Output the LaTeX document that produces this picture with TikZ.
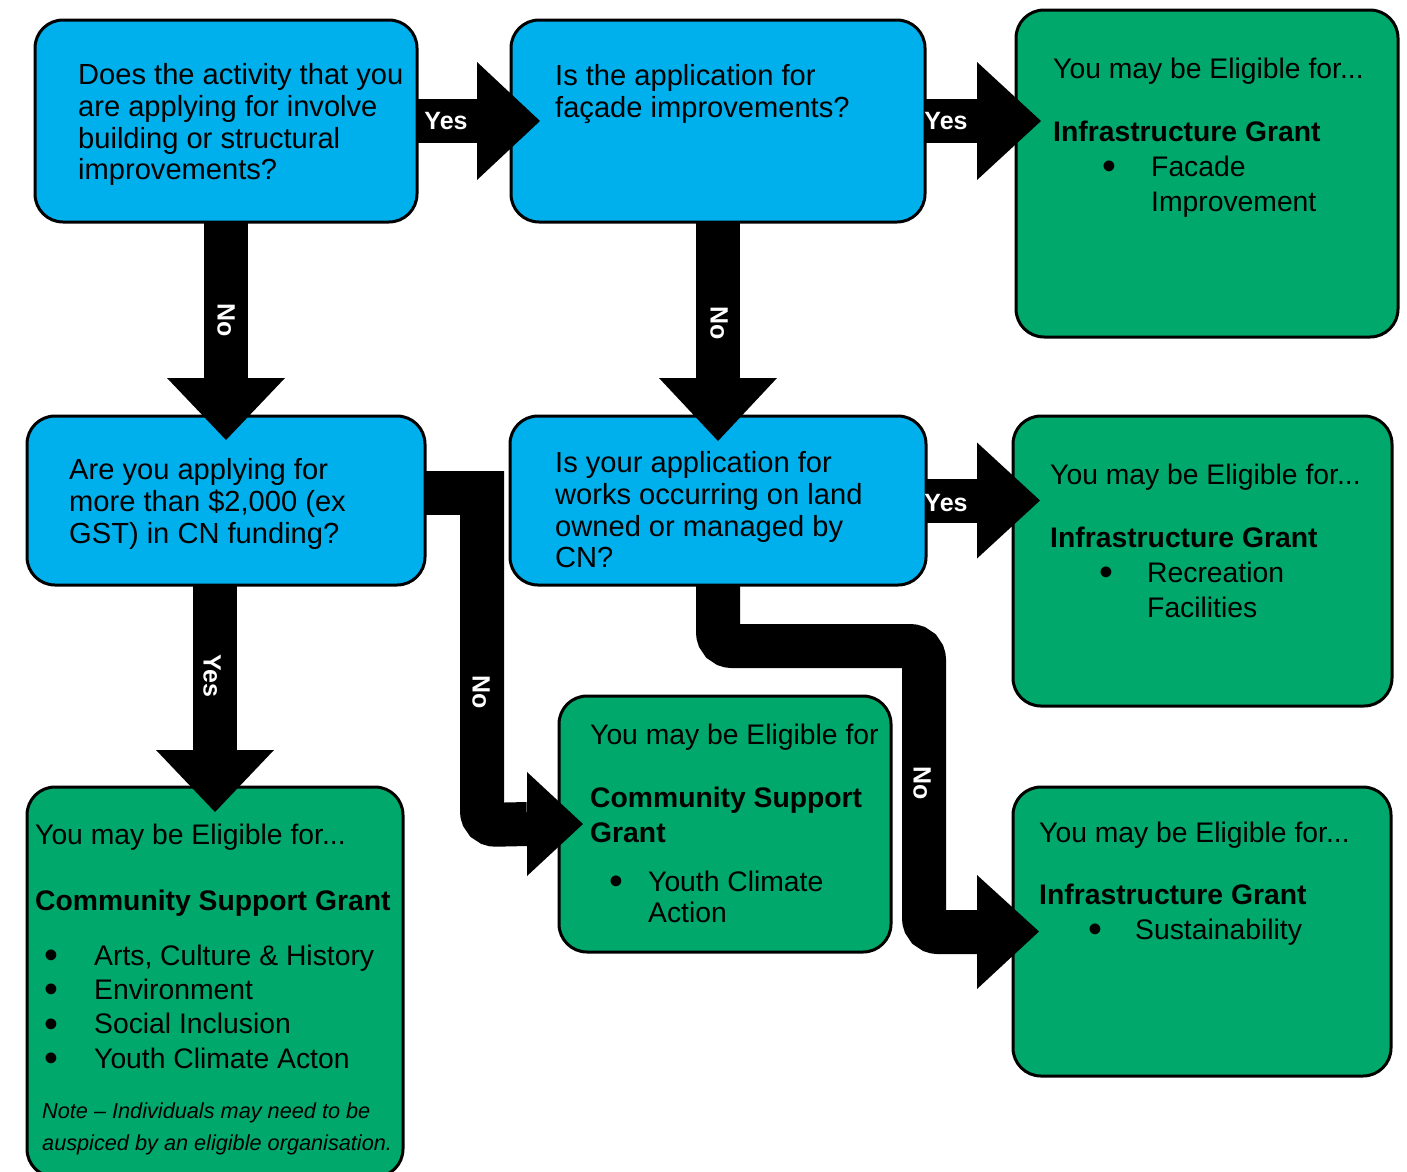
\documentclass[tikz,border=0pt]{standalone}
\usepackage{fontspec}
\usepackage{graphicx}
\setmainfont{Liberation Sans}
\usetikzlibrary{calc}
\definecolor{qblue}{RGB}{0,176,236}
\definecolor{rgreen}{RGB}{0,168,107}
\newcommand\headR[3]{\fill ($(#1)+(0,-#3)$) -- (#2) -- ($(#1)+(0,#3)$) -- cycle;}
\newcommand\headD[3]{\fill ($(#1)+(-#3,0)$) -- (#2) -- ($(#1)+(#3,0)$) -- cycle;}
\newcommand\blt{\smash{\raisebox{-0.12em}{\scalebox{1.4}{•}}}}
\begin{document}
\begin{tikzpicture}[x=1pt,y=-1pt,
  box/.style={draw=black, line width=3pt, rounded corners=28pt, anchor=north west, inner sep=0pt, outer sep=0pt},
  qbox/.style={box, fill=qblue},
  gbox/.style={box, fill=rgreen},
  txt/.style={anchor=north west, inner sep=0pt, align=left, font=\fontsize{28.3}{31.7}\selectfont},
  qtxt/.style={txt, font=\fontsize{29.1}{31.7}\selectfont},
  notetxt/.style={anchor=north west, inner sep=0pt, align=left, font=\fontsize{21.7}{32}\selectfont\itshape},
  shaft/.style={line width=44pt, draw=black},
  lab/.style={text=white, font=\fontsize{25}{28}\selectfont\bfseries, inner sep=0pt},
]
\useasboundingbox (0,0) rectangle (1407,1171);
% boxes
\node[qbox, minimum width=382pt, minimum height=202pt] (q1) at (35,20) {};
\node[qbox, minimum width=414pt, minimum height=202pt] (q2) at (511,20) {};
\node[gbox, minimum width=382pt, minimum height=327pt] (r1) at (1016,10) {};
\node[qbox, minimum width=398pt, minimum height=169pt] (q3) at (27,416) {};
\node[qbox, minimum width=416pt, minimum height=169pt] (q4) at (510,416) {};
\node[gbox, minimum width=379pt, minimum height=290pt] (r2) at (1013,416) {};
\node[gbox, minimum width=332pt, minimum height=256pt] (r3) at (559,696) {};
\node[gbox, minimum width=376pt, minimum height=390pt] (r4) at (27,787) {};
\node[gbox, minimum width=378pt, minimum height=289pt] (r5) at (1013,787) {};

% texts
\node[qtxt] (q1t) at (78,63.5) {Does the activity that you\\are applying for involve\\building or structural\\improvements?};
\node[qtxt] (q2t) at (555,64.5) {Is the application for\\façade improvements?};
\node[txt] (r1t) at (1053,57.5) {You may be Eligible for...\\[31.3pt]\textbf{Infrastructure Grant}\\[3.3pt]\hspace*{49pt}\makebox[49pt][l]{\blt}Facade\\[3.3pt]\hspace*{98pt}Improvement};
\node[qtxt] (q3t) at (69,458.5) {Are you applying for\\more than \$2,000 (ex\\GST) in CN funding?};
\node[qtxt] (q4t) at (555,451.5) {Is your application for\\works occurring on land\\owned or managed by\\CN?};
\node[txt] (r2t) at (1050,463.5) {You may be Eligible for...\\[31.3pt]\textbf{Infrastructure Grant}\\[3.3pt]\hspace*{49pt}\makebox[48pt][l]{\blt}Recreation\\[3.3pt]\hspace*{97pt}Facilities};
\node[txt] (r3t) at (590,723.5) {You may be Eligible for\\[31.3pt]\textbf{Community Support}\\[3.3pt]\textbf{Grant}\\[17.3pt]\hspace*{19pt}\makebox[39pt][l]{\blt}Youth Climate\\\hspace*{58pt}Action};
\node[txt] (r4t) at (35,823.5) {You may be Eligible for...\\[34.3pt]\textbf{Community Support Grant}\\[23.3pt]\hspace*{9pt}\makebox[50pt][l]{\blt}Arts, Culture \& History\\[2.6pt]\hspace*{9pt}\makebox[50pt][l]{\blt}Environment\\[2.6pt]\hspace*{9pt}\makebox[50pt][l]{\blt}Social Inclusion\\[2.6pt]\hspace*{9pt}\makebox[50pt][l]{\blt}Youth Climate Acton};
\node[notetxt] (r4n) at (42,1103) {Note – Individuals may need to be\\auspiced by an eligible organisation.};
\node[txt] (r5t) at (1039,821.5) {You may be Eligible for...\\[30.3pt]\textbf{Infrastructure Grant}\\[3.3pt]\hspace*{49pt}\makebox[47pt][l]{\blt}Sustainability};

% connector geometry
\coordinate (aB) at ($(q2.west)+(-34,0)$);
\coordinate (aT) at ($(q2.west)+(29,0)$);
\coordinate (bB) at ($(q2.east)+(52,0)$);
\coordinate (bT) at ($(r1.west |- q2.east)+(25,0)$);
\coordinate (cB) at ($(q4.east)+(51,0)$);
\coordinate (cT) at ($(r2.west |- q4.east)+(27,0)$);
\coordinate (dB) at ($(q3.north -| q1.south)+(0,-38)$);
\coordinate (dT) at ($(q3.north -| q1.south)+(0,24)$);
\coordinate (eB) at ($(q4.north -| q2.south)+(0,-38)$);
\coordinate (eT) at ($(q4.north -| q2.south)+(0,25)$);
\coordinate (fS) at (r4.north |- q3.south);
\coordinate (fB) at ($(r4.north)+(0,-37)$);
\coordinate (fT) at ($(r4.north)+(0,25)$);
\coordinate (g1) at (504,493);
\coordinate (g2) at (482,471);
\coordinate (g3) at (482,825);
\coordinate (gB) at ($(r3.west)+(-32,0)$);
\coordinate (gT) at ($(r3.west)+(24,0)$);
\coordinate (h1) at (718,646);
\coordinate (h2) at (924,646);
\coordinate (h3) at (924,932);
\coordinate (hB) at (977,932);
\coordinate (hT) at ($(r5.west)+(26,0)$);

% connectors
\draw[shaft] (q1.east) -- (aB);
\headR{aB}{aT}{59}
\draw[shaft] (q2.east) -- (bB);
\headR{bB}{bT}{59}
\draw[shaft] (q4.east) -- (cB);
\headR{cB}{cT}{58}
\draw[shaft] (q1.south) -- (dB);
\headD{dB}{dT}{59}
\draw[shaft] (q2.south) -- (eB);
\headD{eB}{eT}{59}
\draw[shaft] (fS) -- (fB);
\headD{fB}{fT}{59}
\draw[shaft] ($(q3.east)+(0,-7.5)$) -- (g1);
\draw[shaft, rounded corners=14pt] (g2) -- (g3) -- (gB);
\headR{gB}{gT}{52}
\draw[shaft, rounded corners=14pt] (q4.south) -- (h1) -- (h2) -- (h3) -- (hB);
\headR{hB}{hT}{57}

% labels
\node[lab] (la) at (446,121) {Yes};
\node[lab] (lb) at (946,121) {Yes};
\node[lab] (lc) at (946,503) {Yes};
\node[lab, rotate=-90] (ld) at (226,320) {No};
\node[lab, rotate=-90] (le) at (719,323) {No};
\node[lab, rotate=-90] (lf) at (212,676) {Yes};
\node[lab, rotate=-90] (lg) at (481,692) {No};
\node[lab, rotate=-90] (lh) at (922,783) {No};
\end{tikzpicture}
\end{document}
